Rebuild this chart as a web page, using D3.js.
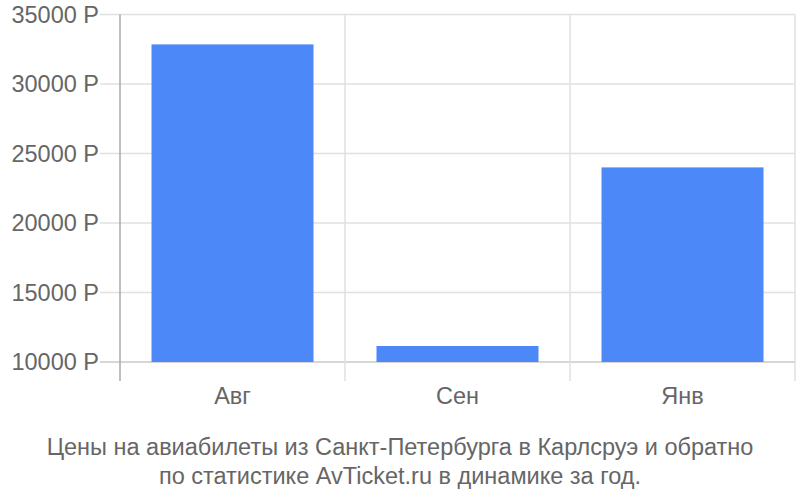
<!DOCTYPE html>
<html>
<head>
<meta charset="utf-8">
<script src="https://cdn.jsdelivr.net/npm/d3@7"></script>
<style>
  body { margin: 0; background: #fff; }
  svg text { font-family: "Liberation Sans", Arial, sans-serif; fill: #666; }
</style>
</head>
<body>
<svg width="800" height="500"></svg>
<script>
var months = ["Авг", "Сен", "Янв"]
var prices = [32850, 11150, 24000]
var yTicks = [10000, 15000, 20000, 25000, 30000, 35000]
var caption = ["Цены на авиабилеты из Санкт-Петербурга в Карлсруэ и обратно",
               "по статистике AvTicket.ru в динамике за год."]

const LEFT = 120, RIGHT = 795, TOP = 14.5, BASE = 362, AXISBOTTOM = 381
const FS = 23.5

const svg = d3.select("svg")

const xScale = d3.scaleBand()
    .domain(months)
    .range([LEFT, RIGHT])
    .paddingInner(0.28)
    .paddingOuter(0.14)

const band = d3.scaleBand().domain(months).range([LEFT, RIGHT])

const yScale = d3.scaleLinear()
    .domain([10000, 35000])
    .range([BASE, TOP])

// horizontal grid
svg.append("g").selectAll("line").data(yTicks).enter().append("line")
    .attr("x1", 100).attr("x2", RIGHT)
    .attr("y1", d => yScale(d)).attr("y2", d => yScale(d))
    .attr("stroke", d => d == 10000 ? "#c8c8c8" : "#e0e0e0")
    .attr("stroke-width", 1.5)

// vertical grid at band edges
svg.append("g").selectAll("line").data(months).enter().append("line")
    .attr("x1", d => band(d) + band.bandwidth()).attr("x2", d => band(d) + band.bandwidth())
    .attr("y1", TOP).attr("y2", AXISBOTTOM)
    .attr("stroke", "#e0e0e0")
    .attr("stroke-width", 1.5)

// bars
svg.append("g").selectAll("rect").data(months).enter().append("rect")
    .attr("x", d => xScale(d))
    .attr("width", xScale.bandwidth())
    .attr("y", (d, i) => yScale(prices[i]))
    .attr("height", (d, i) => BASE - yScale(prices[i]))
    .attr("fill", "#4d88f9")

// left axis line
svg.append("line")
    .attr("x1", LEFT).attr("x2", LEFT)
    .attr("y1", TOP).attr("y2", AXISBOTTOM)
    .attr("stroke", "#aaa").attr("stroke-width", 1.5)

// y labels
svg.append("g").selectAll("text").data(yTicks).enter().append("text")
    .attr("x", 99)
    .attr("y", d => yScale(d))
    .attr("dy", "0.36em")
    .attr("text-anchor", "end")
    .attr("font-size", FS)
    .text(d => d + " Р")

// x labels
svg.append("g").selectAll("text").data(months).enter().append("text")
    .attr("x", d => band(d) + band.bandwidth() / 2)
    .attr("y", 404)
    .attr("text-anchor", "middle")
    .attr("font-size", FS)
    .text(d => d)

// caption
svg.append("g").selectAll("text").data(caption).enter().append("text")
    .attr("x", 400)
    .attr("y", (d, i) => 455 + i * 29)
    .attr("text-anchor", "middle")
    .attr("font-size", FS)
    .text(d => d)
</script>
</body>
</html>
